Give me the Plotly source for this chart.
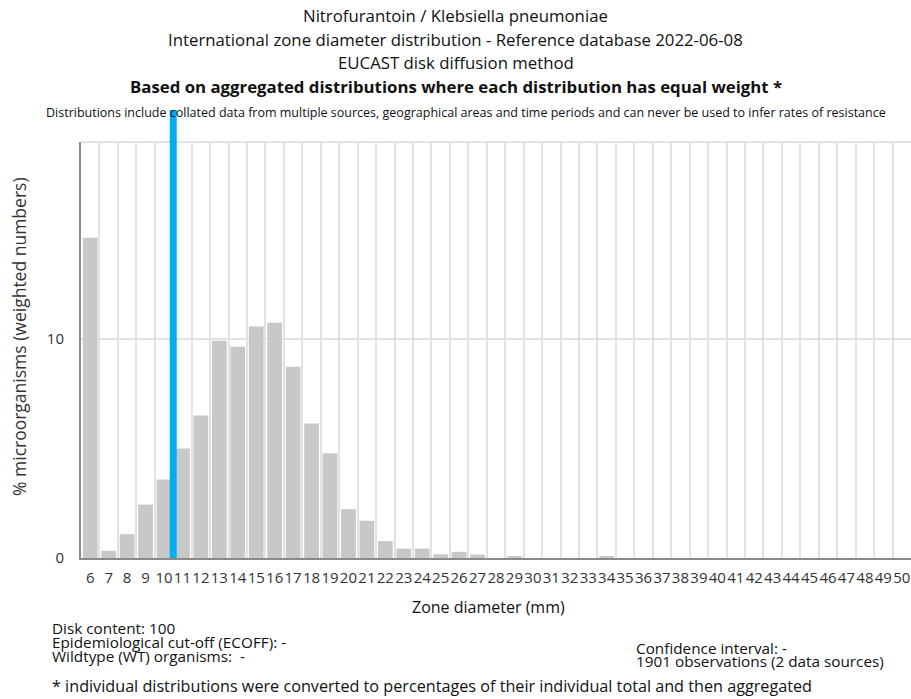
import plotly.graph_objects as go

# Zone diameters (mm) and weighted percentage of isolates per diameter
zone_mm = list(range(6, 51))
pct_values = [14.63, 0.33, 1.09, 2.44, 3.58, 5.00, 6.51, 9.92, 9.65, 10.57,
              10.74, 8.74, 6.14, 4.78, 2.23, 1.70, 0.77, 0.43, 0.43, 0.17,
              0.28, 0.16, 0.00, 0.05, 0.00, 0.00, 0.00, 0.00, 0.05, 0.00,
              0.00, 0.00, 0.00, 0.00, 0.00, 0.00, 0.00, 0.00, 0.00, 0.00,
              0.00, 0.00, 0.00, 0.00, 0.00]
tick_labels = [str(v) for v in zone_mm]
y_ticks = [0, 10]

# Clinical breakpoint marker position (between 10 and 11 mm)
breakpoint_mm = 10.5

title_lines = [
    "Nitrofurantoin / Klebsiella pneumoniae",
    "International zone diameter distribution - Reference database 2022-06-08",
    "EUCAST disk diffusion method",
]
bold_line = "Based on aggregated distributions where each distribution has equal weight *"
note_line = ("Distributions include collated data from multiple sources, geographical areas "
             "and time periods and can never be used to infer rates of resistance")
y_title = "% microorganisms (weighted numbers)"
x_title = "Zone diameter (mm)"
info_left = ["Disk content: 100", "Epidemiological cut-off (ECOFF): -", "Wildtype (WT) organisms:  -"]
info_right = ["Confidence interval: -", "1901 observations (2 data sources)"]
footnote = "* individual distributions were converted to percentages of their individual total and then aggregated"

W, H = 911, 699
ML, MR, MT, MB = 81, 0, 142, 141
PW, PH = W - ML - MR, H - MT - MB
FONT = "Open Sans"


def px(x):
    return (x - ML) / PW


def py(y):
    return (H - MB - y) / PH


fig = go.Figure()
fig.add_trace(go.Bar(
    x=zone_mm, y=pct_values,
    marker=dict(color="#c8c8c8", line=dict(width=0)),
    hoverinfo="x+y",
))

annotations = []
for text, yc in zip(title_lines, [16, 39, 63]):
    annotations.append(dict(text=text, x=px(455.5), y=py(yc), font=dict(size=16.8, color="#111")))
annotations.append(dict(text="<b>" + bold_line + "</b>", x=px(455.5), y=py(87),
                        font=dict(size=16.8, color="#111")))
annotations.append(dict(text=note_line, x=px(466), y=py(113), font=dict(size=12.5, color="#111")))
annotations.append(dict(text=x_title, x=px(488), y=py(607), font=dict(size=16, color="#111")))
annotations.append(dict(text=y_title, x=px(19), y=py(337), textangle=-90,
                        font=dict(size=17.5, color="#333")))
for text, yc in zip(info_left, [628, 642, 656]):
    annotations.append(dict(text=text, x=px(50), y=py(yc), xanchor="left",
                            font=dict(size=15.3, color="#111")))
for text, yc in zip(info_right, [648, 661]):
    annotations.append(dict(text=text, x=px(634), y=py(yc), xanchor="left",
                            font=dict(size=15.3, color="#111")))
annotations.append(dict(text=footnote, x=px(50), y=py(686), xanchor="left",
                        font=dict(size=16.2, color="#111")))
for a in annotations:
    a.update(xref="paper", yref="paper", showarrow=False, yanchor="middle",
             xanchor=a.get("xanchor", "center"))
    a["font"]["family"] = FONT

shapes = [
    # light frame line along the top of the plotting area
    dict(type="line", xref="paper", yref="paper", x0=0, x1=1, y0=1, y1=1,
         line=dict(color="#e2e2e2", width=2), layer="below"),
    # breakpoint marker
    dict(type="line", xref="x", yref="paper", x0=breakpoint_mm, x1=breakpoint_mm,
         y0=0, y1=py(110), line=dict(color="#00aeef", width=7), layer="above"),
]

fig.update_layout(
    width=W, height=H,
    margin=dict(l=ML, r=MR, t=MT, b=MB),
    paper_bgcolor="white", plot_bgcolor="white",
    bargap=0.2, showlegend=False,
    font=dict(family=FONT, size=14, color="#333"),
    annotations=annotations, shapes=shapes,
    xaxis=dict(
        range=[5.5, 50.5], tickmode="array", tickvals=zone_mm, ticktext=tick_labels,
        tickangle=0,
        showgrid=False, zeroline=False,
        showline=True, linecolor="#8a8a8a", linewidth=2,
        ticks="outside", ticklen=5, tickcolor="rgba(0,0,0,0)",
        tickfont=dict(size=15, color="#333"),
        minor=dict(tick0=5.5, dtick=1, showgrid=True, gridcolor="#e2e2e2", gridwidth=2,
                   ticks=""),
    ),
    yaxis=dict(
        range=[0, 19], tickmode="array", tickvals=y_ticks,
        showgrid=True, gridcolor="#e2e2e2", gridwidth=2, zeroline=False,
        showline=True, linecolor="#8a8a8a", linewidth=2,
        ticks="outside", ticklen=12, tickcolor="rgba(0,0,0,0)",
        tickfont=dict(size=15, color="#333"),
    ),
)

fig.write_html("out.html")
